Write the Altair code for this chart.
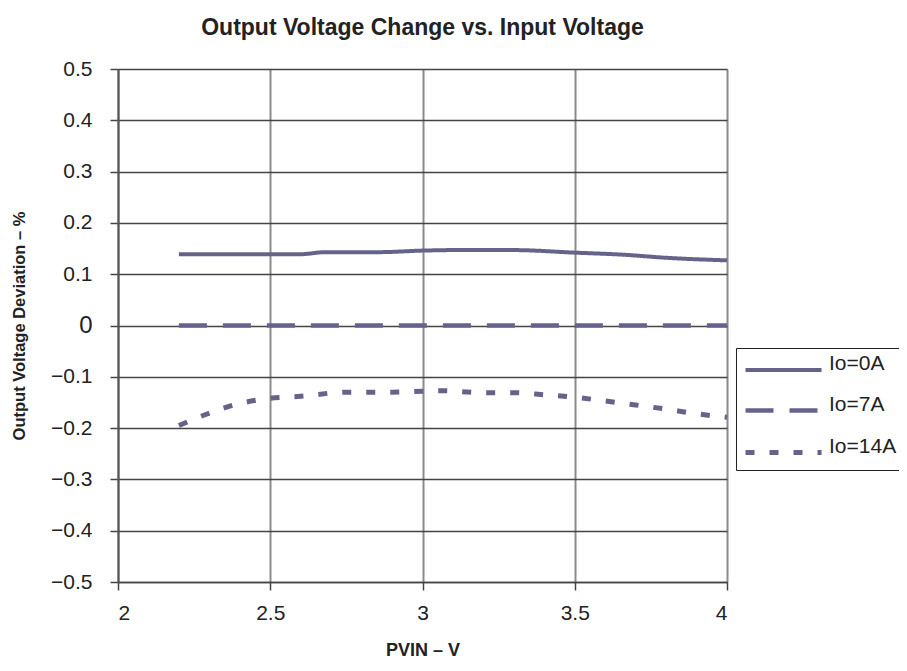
import altair as alt
import pandas as pd

series_names = ["Io=0A", "Io=7A", "Io=14A"]

x_0a = [2.2, 2.4, 2.6, 2.68, 2.86, 3.0, 3.1, 3.3, 3.5, 3.66, 3.8, 4.0]
y_0a = [0.139, 0.139, 0.139, 0.143, 0.143, 0.146, 0.147, 0.147, 0.142, 0.138, 0.132, 0.127]

x_7a = [2.2, 2.6, 3.0, 3.4, 4.0]
y_7a = [0.0, 0.0, 0.0, 0.0, 0.0]

x_14a = [2.2, 2.29, 2.4, 2.5, 2.6, 2.75, 2.9, 3.0, 3.06, 3.2, 3.3, 3.4, 3.5, 3.6, 3.7, 3.8, 3.9, 4.0]
y_14a = [-0.195, -0.173, -0.152, -0.142, -0.138, -0.130, -0.130, -0.128, -0.127, -0.131, -0.131, -0.135,
         -0.140, -0.147, -0.155, -0.163, -0.172, -0.179]

x_ticks = [2, 2.5, 3, 3.5, 4]
y_ticks = [-0.5, -0.4, -0.3, -0.2, -0.1, 0, 0.1, 0.2, 0.3, 0.4, 0.5]

rows = []
for name, xs, ys in zip(series_names, [x_0a, x_7a, x_14a], [y_0a, y_7a, y_14a]):
    for i, (xv, yv) in enumerate(zip(xs, ys)):
        rows.append({"series": name, "vin": xv, "dev": yv, "idx": i})
df = pd.DataFrame(rows)

LINE = "#66638a"
FONT = "Liberation Sans"

chart = alt.Chart(df).mark_line(interpolate="monotone", color=LINE, strokeCap="butt").encode(
    x=alt.X("vin:Q",
            scale=alt.Scale(domain=[2, 4], nice=False, zero=False),
            axis=alt.Axis(values=x_ticks, format="~g", title="PVIN – V",
                          grid=True, gridColor="#8c8c8c", gridWidth=2,
                          domainColor="#444", domainWidth=1.5,
                          tickColor="#444", tickSize=8, tickWidth=1.5,
                          labelFont=FONT, labelFontSize=21, labelColor="#222", labelPadding=12,
                          titleFont=FONT, titleFontSize=18, titleFontWeight="bold",
                          titleColor="#222", titlePadding=18)),
    y=alt.Y("dev:Q",
            scale=alt.Scale(domain=[-0.5, 0.5], nice=False, zero=False),
            axis=alt.Axis(values=y_ticks, format=".1~f", title="Output Voltage Deviation – %",
                          grid=True, gridColor="#444", gridWidth=1.5,
                          domainColor="#555", domainWidth=2,
                          tickColor="#444", tickSize=8, tickWidth=1.5,
                          labelFont=FONT, labelColor="#222", labelPadding=18,
                          labelFontSize={"condition": {"test": "datum.value === 0", "value": 24}, "value": 21},
                          titleFont=FONT, titleFontSize=16.5, titleFontWeight="bold",
                          titleColor="#222", titlePadding=23)),
    strokeDash=alt.StrokeDash("series:N",
                              scale=alt.Scale(domain=series_names, range=[[1, 0], [28, 16], [9, 15]]),
                              legend=alt.Legend(title=None, orient="none", legendX=618, legendY=279,
                                                symbolType="M-1,0H4.85", symbolSize=676,
                                                symbolStrokeColor=LINE, symbolStrokeWidth=4.5,
                                                labelFont=FONT, labelFontSize=21, labelColor="#222",
                                                labelBaseline="alphabetic", labelOffset=55,
                                                rowPadding=15, padding=7,
                                                strokeColor="#222", fillColor="white")),
    strokeWidth=alt.StrokeWidth("series:N",
                                scale=alt.Scale(domain=series_names, range=[4, 5, 5]),
                                legend=None),
    order="idx:Q",
).properties(
    width=609, height=513,
    title=alt.TitleParams("Output Voltage Change vs. Input Voltage", font=FONT, fontSize=23,
                          fontWeight="bold", color="#222", anchor="middle", offset=18),
    autosize=alt.AutoSizeParams(type="none"),
    padding={"left": 110, "top": 61, "right": 172, "bottom": 81},
).configure_view(stroke="#a0a0a0", strokeWidth=2).configure(background="white")

chart.save("out.html", embed_options={"renderer": "svg", "actions": False})
